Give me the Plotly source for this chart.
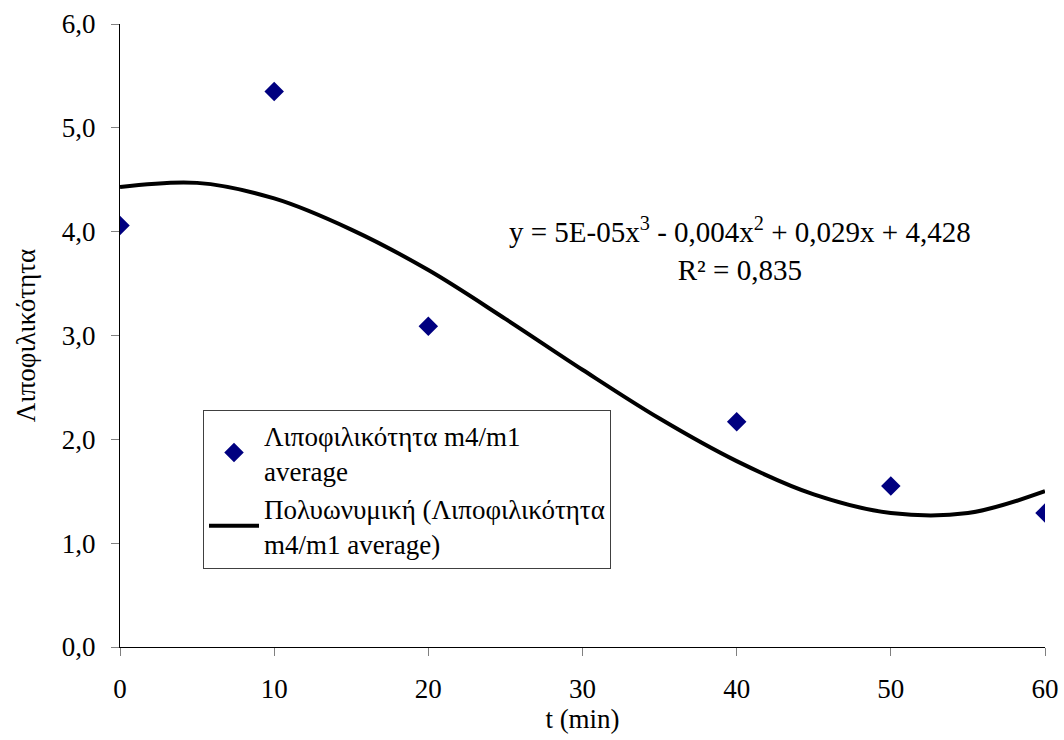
import plotly.graph_objects as go

# measured points
t_min = [0, 10, 20, 40, 50, 60]
lipophilicity = [4.06, 5.35, 3.09, 2.17, 1.55, 1.29]

# polynomial (cubic) trendline
trend_t = [0, 5, 10, 15, 20, 25, 30, 35, 40, 45, 50, 55, 60]
trend_y = [4.43, 4.47, 4.32, 4.02, 3.63, 3.16, 2.67, 2.20, 1.79, 1.47, 1.29, 1.29, 1.50]

y_ticks = [0, 1, 2, 3, 4, 5, 6]
x_ticks = [0, 10, 20, 30, 40, 50, 60]

FONT = "Liberation Serif, Times New Roman, serif"
FS = 27

L, R, T, B = 120, 19, 24, 93
W, H = 1064, 740
pw, ph = W - L - R, H - T - B

fig = go.Figure()
fig.add_trace(go.Scatter(
    x=t_min, y=lipophilicity, mode="markers",
    name="Λιποφιλικότητα m4/m1<br>average",
    marker=dict(symbol="diamond", size=15, color="#000080"),
))
fig.add_trace(go.Scatter(
    x=trend_t, y=trend_y, mode="lines",
    name="Πολυωνυμική (Λιποφιλικότητα<br>m4/m1 average)",
    line=dict(color="black", width=4, shape="spline", smoothing=1.0),
))

fig.add_annotation(
    x=(740 - L) / pw, y=(H - B - 249) / ph, xref="paper", yref="paper",
    xanchor="center", yanchor="middle",
    showarrow=False,
    text="y = 5E-05x<sup>3</sup> - 0,004x<sup>2</sup> + 0,029x + 4,428<br>R² = 0,835",
    align="center", font=dict(family=FONT, size=29, color="black"),
)

fig.update_layout(
    width=W, height=H,
    margin=dict(l=L, r=R, t=T, b=B, autoexpand=False),
    paper_bgcolor="white", plot_bgcolor="white",
    separators=",.",
    font=dict(family=FONT, size=FS, color="black"),
    showlegend=True,
    legend=dict(
        x=(203 - L) / pw, y=(H - B - 410) / ph, xanchor="left", yanchor="top",
        bgcolor="white", bordercolor="#404040", borderwidth=1,
        font=dict(family=FONT, size=27, color="black"),
        itemwidth=50, tracegroupgap=0,
    ),
)
fig.update_xaxes(
    range=[0, 60], tickvals=x_ticks, showgrid=False, zeroline=False,
    showline=True, linecolor="black", linewidth=1, automargin=False,
    ticks="outside", ticklen=8, tickcolor="#808080", ticklabelstandoff=10,
    title=dict(text="t (min)", font=dict(family=FONT, size=FS), standoff=0),
    tickfont=dict(family=FONT, size=FS),
)
fig.update_yaxes(
    range=[0, 6], tickvals=y_ticks, tickformat=".1f", showgrid=False, zeroline=False,
    showline=True, linecolor="black", linewidth=1, automargin=False,
    ticks="outside", ticklen=8, tickcolor="#808080", ticklabelstandoff=10,
    title=dict(text="Λιποφιλικότητα", font=dict(family=FONT, size=FS), standoff=18),
    tickfont=dict(family=FONT, size=FS),
)

fig.write_html("out.html")
